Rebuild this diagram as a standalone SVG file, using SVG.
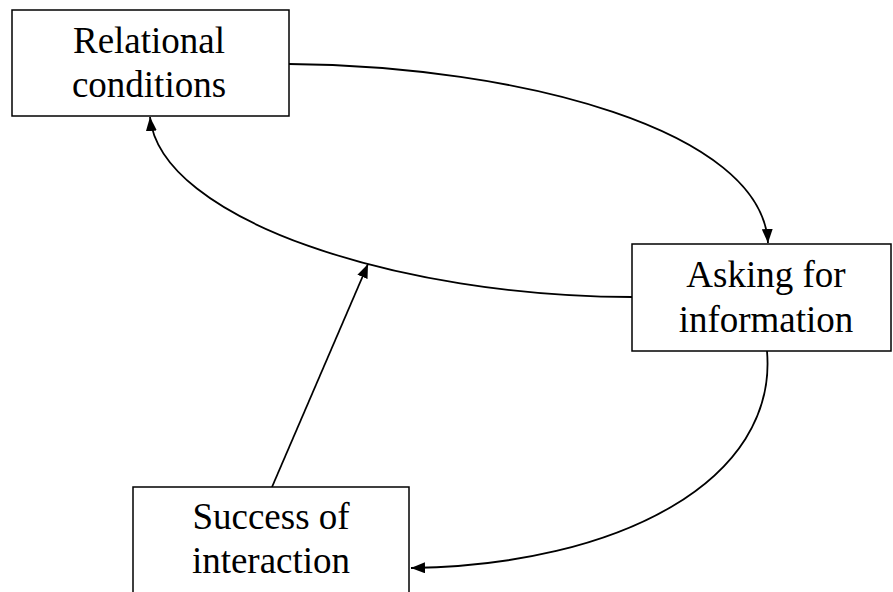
<svg xmlns="http://www.w3.org/2000/svg" width="893" height="592" viewBox="0 0 893 592">
<defs>
<marker id="ah" viewBox="0 0 14 11" refX="14" refY="5.5" markerWidth="14" markerHeight="11" markerUnits="userSpaceOnUse" orient="auto">
<path d="M0,0 L14,5.5 L0,11 Z" fill="#000"/>
</marker>
<style>
.box{fill:#fff;stroke:#000;stroke-width:1.5}
.lbl{font-family:"Liberation Serif","Times New Roman",serif;font-size:37px;fill:#000;text-anchor:middle}
.con{fill:none;stroke:#000;stroke-width:1.8;marker-end:url(#ah)}
</style>
</defs>
<rect width="893" height="592" fill="#fff"/>
<g id="connectors">
<path class="con" d="M289,64 C520,66 762,130 768,243"/>
<path class="con" d="M632,297 C400,297 160,220 150,117"/>
<path class="con" d="M767,351 C778,480 620,565 411,568"/>
<path class="con" d="M272,487 L368,264"/>
</g>
<g id="relational">
<rect class="box" x="12" y="10" width="277" height="106"/>
<text class="lbl" x="149" y="53">Relational</text>
<text class="lbl" x="149" y="97">conditions</text>
</g>
<g id="asking">
<rect class="box" x="632" y="244" width="259" height="107"/>
<text class="lbl" x="766" y="287">Asking for</text>
<text class="lbl" x="766" y="332">information</text>
</g>
<g id="success">
<rect class="box" x="133" y="487" width="276" height="110"/>
<text class="lbl" x="271" y="529">Success of</text>
<text class="lbl" x="271" y="573">interaction</text>
</g>
</svg>
